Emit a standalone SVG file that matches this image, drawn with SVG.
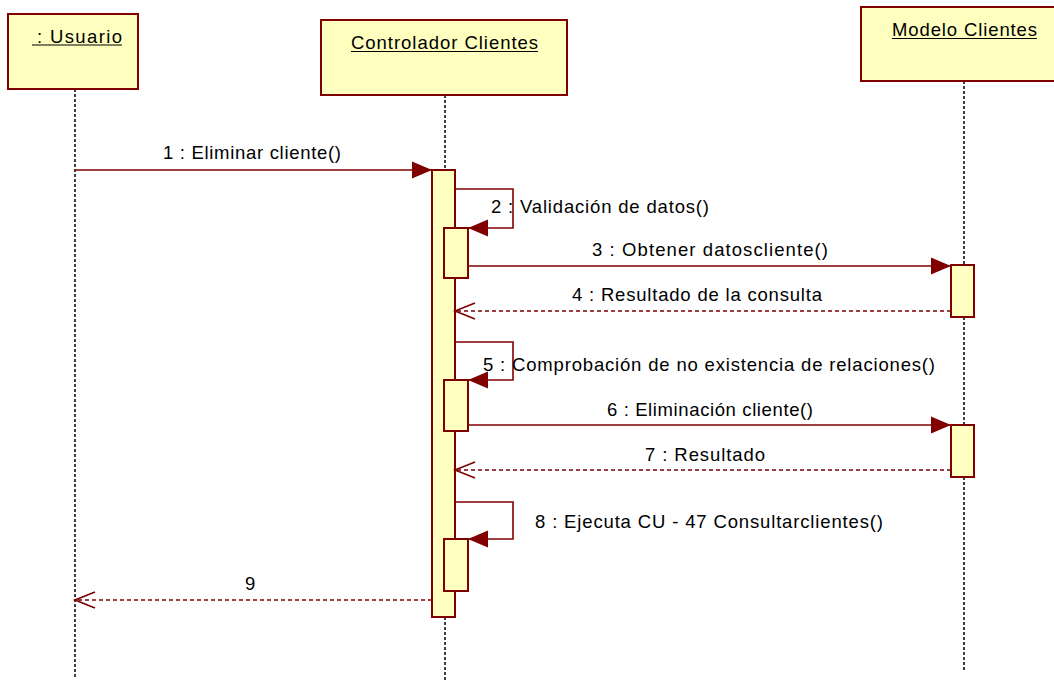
<svg xmlns="http://www.w3.org/2000/svg" width="1054" height="682" viewBox="0 0 1054 682">
<style>
.box{fill:#FFFFC0;stroke:#800000;stroke-width:2}
.act{fill:#FFFFC0;stroke:#800000;stroke-width:2}
.life{stroke:#000;stroke-width:1.5;stroke-dasharray:3,2;fill:none}
.msg{stroke:#800000;stroke-width:1.6;fill:none}
.ret{stroke:#800000;stroke-width:1.6;fill:none;stroke-dasharray:4,3}
.t{font-family:"Liberation Sans",Arial,sans-serif;font-size:18.5px;fill:#000}
.ul{stroke:#000;stroke-width:1.2}
</style>
<defs>
<marker id="fill" markerUnits="userSpaceOnUse" markerWidth="22" markerHeight="18" refX="20" refY="8.5" orient="auto" overflow="visible">
<path d="M0,0 L20,8.5 L0,17 Z" fill="#800000" stroke="none"/>
</marker>
<marker id="open" markerUnits="userSpaceOnUse" markerWidth="22" markerHeight="18" refX="20" refY="8" orient="auto" overflow="visible">
<path d="M0,0 L20,8 L0,16" fill="none" stroke="#800000" stroke-width="1.6"/>
</marker>
</defs>

<g id="lifelines">
<line class="life" x1="75" y1="89" x2="75" y2="679"/>
<line class="life" x1="445" y1="95" x2="445" y2="170"/>
<line class="life" x1="445" y1="617" x2="445" y2="680"/>
<line class="life" x1="964" y1="81" x2="964" y2="265"/>
<line class="life" x1="964" y1="317" x2="964" y2="425"/>
<line class="life" x1="964" y1="477" x2="964" y2="672"/>
</g>

<g id="usuario">
<rect class="box" x="8" y="14" width="130" height="75"/>
<text class="t" x="37" y="43" textLength="85" lengthAdjust="spacing">: Usuario</text>
<line class="ul" x1="32" y1="45" x2="122" y2="45"/>
</g>

<g id="controlador">
<rect class="box" x="321" y="20" width="246" height="75"/>
<text class="t" x="351" y="49" textLength="187" lengthAdjust="spacing">Controlador Clientes</text>
<line class="ul" x1="351" y1="51.5" x2="538" y2="51.5"/>
</g>

<g id="modelo">
<rect class="box" x="861" y="7" width="210" height="74"/>
<text class="t" x="892" y="36" textLength="145" lengthAdjust="spacing">Modelo Clientes</text>
<line class="ul" x1="892" y1="38.5" x2="1037" y2="38.5"/>
</g>

<g id="activations">
<rect class="act" x="432" y="170" width="23" height="447"/>
<rect class="act" x="444" y="228" width="24" height="50"/>
<rect class="act" x="444" y="380" width="24" height="51"/>
<rect class="act" x="444" y="539" width="24" height="52"/>
<rect class="act" x="951" y="265" width="23" height="52"/>
<rect class="act" x="951" y="425" width="23" height="52"/>
</g>

<g id="connectors">
<line class="msg" x1="75" y1="170" x2="432" y2="170" marker-end="url(#fill)"/>
<polyline class="msg" points="455,189 513,189 513,228 468,228" marker-end="url(#fill)"/>
<line class="msg" x1="468" y1="266" x2="951" y2="266" marker-end="url(#fill)"/>
<line class="ret" x1="951" y1="311" x2="455" y2="311" marker-end="url(#open)"/>
<polyline class="msg" points="455,342 513,342 513,380 468,380" marker-end="url(#fill)"/>
<line class="msg" x1="468" y1="425" x2="951" y2="425" marker-end="url(#fill)"/>
<line class="ret" x1="951" y1="470" x2="455" y2="470" marker-end="url(#open)"/>
<polyline class="msg" points="455,502 513,502 513,539 468,539" marker-end="url(#fill)"/>
<line class="ret" x1="432" y1="600" x2="75" y2="600" marker-end="url(#open)"/>
</g>

<g id="labels">
<text class="t" x="163" y="159" textLength="178" lengthAdjust="spacing">1 : Eliminar cliente()</text>
<text class="t" x="491" y="213" textLength="218" lengthAdjust="spacing">2 : Validación de datos()</text>
<text class="t" x="592" y="256" textLength="236" lengthAdjust="spacing">3 : Obtener datoscliente()</text>
<text class="t" x="572" y="301" textLength="250" lengthAdjust="spacing">4 : Resultado de la consulta</text>
<text class="t" x="483" y="371" textLength="452" lengthAdjust="spacing">5 : Comprobación de no existencia de relaciones()</text>
<text class="t" x="607" y="416" textLength="206" lengthAdjust="spacing">6 : Eliminación cliente()</text>
<text class="t" x="645" y="461" textLength="120" lengthAdjust="spacing">7 : Resultado</text>
<text class="t" x="535" y="528" textLength="348" lengthAdjust="spacing">8 : Ejecuta CU - 47 Consultarclientes()</text>
<text class="t" x="245" y="590">9</text>
</g>
</svg>
